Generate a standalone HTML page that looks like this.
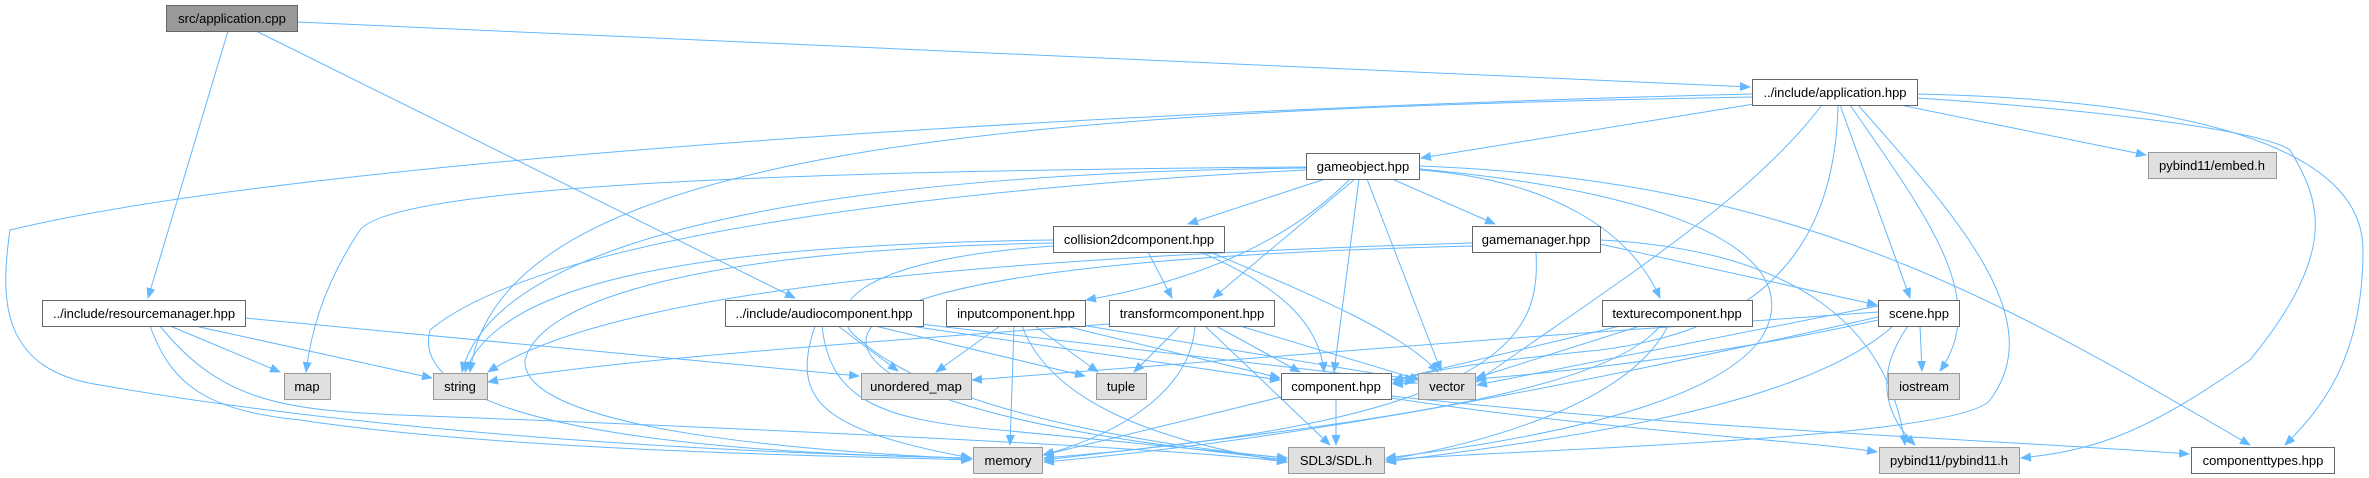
<!DOCTYPE html>
<html><head><meta charset="utf-8"><style>
html,body{margin:0;padding:0;background:#fff;width:2369px;height:478px;overflow:hidden}
svg text{font-family:"Liberation Sans",Helvetica,Arial,sans-serif;font-size:13px;fill:#000}
</style></head><body>
<svg width="2369" height="478" viewBox="0 0 2369 478" xmlns="http://www.w3.org/2000/svg">
<defs><marker id="a" markerUnits="userSpaceOnUse" markerWidth="11" markerHeight="9" refX="10" refY="4.5" orient="auto"><path d="M0,0 L11,4.5 L0,9 z" fill="#63b8ff"/></marker></defs>
<g fill="none" stroke="#63b8ff" stroke-width="1" marker-end="url(#a)">
<path d="M297,22 L1750,87"/>
<path d="M228,31 L148,298"/>
<path d="M256,31 L795,298"/>
<path d="M1754,104 L1421,158"/>
<path d="M1900,105 L2146,155"/>
<path d="M1917,94 C2200,100 2363,150 2363,250 C2363,360 2320,410 2285,445"/>
<path d="M1917,98 C2100,110 2260,130 2290,150 C2320,200 2340,250 2250,360 C2150,430 2100,450 2021,458"/>
<path d="M1840,105 L1910,298"/>
<path d="M1850,105 C1930,220 1990,300 1940,371"/>
<path d="M1858,105 C1960,220 2050,320 1990,400 C1960,440 1500,450 1386,460"/>
<path d="M1822,105 C1750,200 1620,280 1476,382"/>
<path d="M1838,105 C1835,250 1760,330 1600,350 C1500,360 1420,370 1393,383"/>
<path d="M1752,97 C1000,110 500,150 470,372"/>
<path d="M1752,94 C1100,110 300,160 10,230 C0,300 0,370 100,385 C300,420 600,450 971,458"/>
<path d="M1306,167 C900,170 400,180 360,230 C320,290 310,340 306,372"/>
<path d="M1306,168 C900,172 500,220 462,372"/>
<path d="M1306,170 C1000,185 550,230 430,330 C400,440 800,455 971,458"/>
<path d="M1325,179 L1188,224"/>
<path d="M1350,179 C1290,240 1200,280 1086,300"/>
<path d="M1355,179 L1213,298"/>
<path d="M1359,179 L1334,372"/>
<path d="M1367,179 L1441,371"/>
<path d="M1392,179 L1495,224"/>
<path d="M1420,170 C1550,180 1630,230 1660,298"/>
<path d="M1420,166 C1800,180 2000,300 2250,445"/>
<path d="M1420,169 C1750,200 1800,280 1760,340 C1700,420 1450,450 1386,458"/>
<path d="M1053,240 C700,245 500,280 465,372"/>
<path d="M1053,243 C700,250 540,300 525,360 C520,440 900,455 972,459"/>
<path d="M1148,252 L1172,298"/>
<path d="M1200,252 C1290,290 1320,330 1324,372"/>
<path d="M1210,252 C1300,290 1400,330 1438,372"/>
<path d="M1053,246 C850,260 820,310 860,340 C950,420 1200,450 1287,458"/>
<path d="M1472,243 C900,260 600,300 488,372"/>
<path d="M1536,252 C1540,330 1520,420 1044,458"/>
<path d="M1600,244 L1877,305"/>
<path d="M1600,240 C1800,250 1890,330 1905,445"/>
<path d="M1472,246 C900,260 800,320 900,380 C1000,430 1200,450 1287,460"/>
<path d="M170,326 L280,372"/>
<path d="M195,326 L432,378"/>
<path d="M245,318 L859,376"/>
<path d="M150,326 C170,380 200,410 300,420 C500,450 800,455 971,460"/>
<path d="M160,326 C220,400 280,410 400,415 C800,430 1200,450 1287,462"/>
<path d="M838,326 L898,371"/>
<path d="M875,326 L1085,376"/>
<path d="M910,326 L1280,380"/>
<path d="M920,324 L1415,382"/>
<path d="M815,326 C790,400 820,430 971,458"/>
<path d="M822,326 C830,400 880,420 1000,430 C1150,445 1250,455 1287,458"/>
<path d="M1000,326 L936,372"/>
<path d="M1035,326 L1098,372"/>
<path d="M1065,326 L1280,378"/>
<path d="M1075,324 L1415,380"/>
<path d="M1014,326 L1010,445"/>
<path d="M1022,326 C1050,400 1150,440 1287,462"/>
<path d="M1180,326 L1134,372"/>
<path d="M1195,326 C1190,400 1100,440 1043,455"/>
<path d="M1205,326 L1330,445"/>
<path d="M1216,326 L1300,372"/>
<path d="M1240,326 L1420,380"/>
<path d="M1109,324 C900,340 600,360 488,382"/>
<path d="M1620,326 L1393,380"/>
<path d="M1640,326 L1476,378"/>
<path d="M1660,326 C1600,400 1300,430 1044,460"/>
<path d="M1668,326 C1630,400 1500,440 1386,460"/>
<path d="M1878,306 L1477,385"/>
<path d="M1878,312 C1600,330 1100,370 972,380"/>
<path d="M1878,317 C1600,380 1300,440 1044,462"/>
<path d="M1893,326 C1800,410 1550,440 1386,462"/>
<path d="M1920,326 L1922,371"/>
<path d="M1908,326 C1870,380 1890,420 1915,445"/>
<path d="M1878,320 C1700,360 1500,380 1393,384"/>
<path d="M1281,397 L1044,455"/>
<path d="M1336,399 L1336,445"/>
<path d="M1391,396 C1700,430 2000,440 2189,454"/>
<path d="M1391,398 C1600,430 1800,440 1877,452"/>
</g>
<g stroke-width="1">
<rect x="166.5" y="5.5" width="131" height="26" fill="#999" stroke="#666"/>
<rect x="1752.5" y="79.5" width="165" height="26" fill="#fff" stroke="#666"/>
<rect x="42.5" y="300.5" width="203" height="26" fill="#fff" stroke="#666"/>
<rect x="725.5" y="300.5" width="198" height="26" fill="#fff" stroke="#666"/>
<rect x="1306.5" y="153.5" width="113" height="26" fill="#fff" stroke="#666"/>
<rect x="1053.5" y="226.5" width="171" height="26" fill="#fff" stroke="#666"/>
<rect x="1472.5" y="226.5" width="128" height="26" fill="#fff" stroke="#666"/>
<rect x="946.5" y="300.5" width="139" height="26" fill="#fff" stroke="#666"/>
<rect x="1109.5" y="300.5" width="165" height="26" fill="#fff" stroke="#666"/>
<rect x="1602.5" y="300.5" width="150" height="26" fill="#fff" stroke="#666"/>
<rect x="1878.5" y="300.5" width="81" height="26" fill="#fff" stroke="#666"/>
<rect x="2148.5" y="152.5" width="128" height="26" fill="#e0e0e0" stroke="#999"/>
<rect x="284.5" y="373.5" width="46" height="26" fill="#e0e0e0" stroke="#999"/>
<rect x="433.5" y="373.5" width="54" height="26" fill="#e0e0e0" stroke="#999"/>
<rect x="861.5" y="373.5" width="110" height="26" fill="#e0e0e0" stroke="#999"/>
<rect x="1096.5" y="373.5" width="50" height="26" fill="#e0e0e0" stroke="#999"/>
<rect x="1281.5" y="373.5" width="110" height="26" fill="#fff" stroke="#666"/>
<rect x="1418.5" y="373.5" width="57" height="26" fill="#e0e0e0" stroke="#999"/>
<rect x="1888.5" y="373.5" width="71" height="26" fill="#e0e0e0" stroke="#999"/>
<rect x="973.5" y="447.5" width="69" height="26" fill="#e0e0e0" stroke="#999"/>
<rect x="1288.5" y="447.5" width="96" height="26" fill="#e0e0e0" stroke="#999"/>
<rect x="1879.5" y="447.5" width="140" height="26" fill="#e0e0e0" stroke="#999"/>
<rect x="2191.5" y="447.5" width="143" height="26" fill="#fff" stroke="#666"/>
</g>
<g text-anchor="middle">
<text x="232" y="23">src/application.cpp</text>
<text x="1835" y="97">../include/application.hpp</text>
<text x="144" y="318">../include/resourcemanager.hpp</text>
<text x="824" y="318">../include/audiocomponent.hpp</text>
<text x="1363" y="171">gameobject.hpp</text>
<text x="1139" y="244">collision2dcomponent.hpp</text>
<text x="1536" y="244">gamemanager.hpp</text>
<text x="1016" y="318">inputcomponent.hpp</text>
<text x="1192" y="318">transformcomponent.hpp</text>
<text x="1677" y="318">texturecomponent.hpp</text>
<text x="1919" y="318">scene.hpp</text>
<text x="2212" y="170">pybind11/embed.h</text>
<text x="307" y="391">map</text>
<text x="460" y="391">string</text>
<text x="916" y="391">unordered_map</text>
<text x="1121" y="391">tuple</text>
<text x="1336" y="391">component.hpp</text>
<text x="1447" y="391">vector</text>
<text x="1924" y="391">iostream</text>
<text x="1008" y="465">memory</text>
<text x="1336" y="465">SDL3/SDL.h</text>
<text x="1949" y="465">pybind11/pybind11.h</text>
<text x="2263" y="465">componenttypes.hpp</text>
</g>
</svg>
</body></html>
